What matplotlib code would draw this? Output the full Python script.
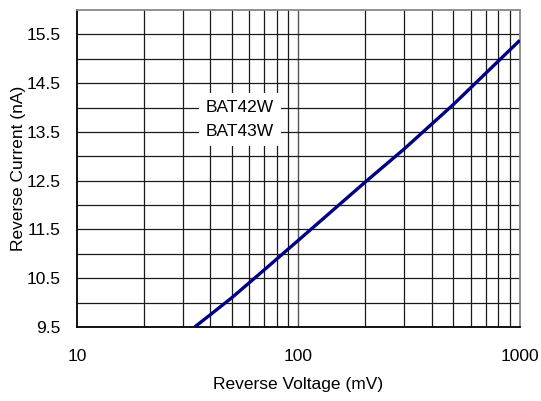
import matplotlib
matplotlib.use("Agg")
import matplotlib.pyplot as plt
import numpy as np

plt.rcParams['font.family'] = ['Liberation Sans', 'DejaVu Sans']

voltage_mv = [34, 50, 70, 100, 200, 300, 500, 1000]
current_na = [9.5, 10.1, 10.67, 11.28, 12.47, 13.15, 14.06, 15.38]
y_ticks = [9.5, 10.5, 11.5, 12.5, 13.5, 14.5, 15.5]
x_ticks = [10, 100, 1000]
labels = ["BAT42W", "BAT43W"]

FS = 12.5

fig = plt.figure(figsize=(5.41, 4.01), dpi=100)
ax = fig.add_axes([0.1423, 0.1845, 0.961 - 0.1423, 0.975 - 0.1845])
ax.set_xscale('log')
ax.set_xlim(10, 1000)
ax.set_ylim(9.5, 16.0)

# grid
for d in [10, 100]:
    for m in range(2, 10):
        ax.axvline(d * m, color='#1a1a1a', lw=0.9, zorder=1)
ax.axvline(100, color='#555555', lw=1.0, zorder=1)
for yv in np.arange(10.0, 16.0, 0.5):
    ax.axhline(yv, color='#1a1a1a', lw=0.9, zorder=1)

ax.plot(voltage_mv, current_na, color='#000080', lw=2.4, zorder=3, solid_capstyle='butt')

ax.set_yticks(y_ticks)
ax.set_yticklabels([f"{v:.1f}" for v in y_ticks])
ax.set_xticks(x_ticks)
ax.set_xticklabels([str(v) for v in x_ticks])
ax.minorticks_off()
ax.tick_params(axis='both', length=0, labelsize=FS)
ax.tick_params(axis='x', pad=16)
ax.tick_params(axis='y', pad=12)

for s in ['left', 'bottom']:
    ax.spines[s].set_color('black')
    ax.spines[s].set_linewidth(1.3)
for s in ['top', 'right']:
    ax.spines[s].set_color('#888888')
    ax.spines[s].set_linewidth(1.3)

ax.set_xlabel('Reverse Voltage (mV)', fontsize=FS, labelpad=9)
ax.set_ylabel('Reverse Current (nA)', fontsize=FS)
ax.yaxis.label.set_va('center')
ax.yaxis.set_label_coords(-0.133, 0.5)

for lab, yv in zip(labels, [14.0, 13.5]):
    ax.text(54.5, yv, lab, ha='center', va='center', fontsize=FS, zorder=4,
            bbox=dict(facecolor='white', edgecolor='none', pad=5.0))

fig.savefig('out.png', dpi=100)
